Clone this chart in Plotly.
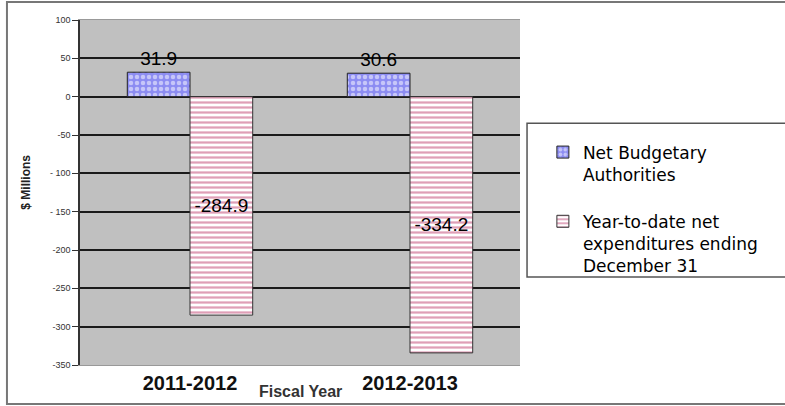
import plotly.graph_objects as go

# data
years = ['2011-2012', '2012-2013']
year_labels = ['<b>2011-2012</b>', '<b>2012-2013</b>']
authorities = [31.9, 30.6]
expenditures = [-284.9, -334.2]
y_ticks = [100, 50, 0, -50, -100, -150, -200, -250, -300, -350]
y_tick_text = ['100', '50', '0', '-50', '- 100', '- 150', '-200', '-250', '-300', '-350']

fig = go.Figure()

fig.add_trace(go.Bar(
    x=years, y=authorities, name='Net Budgetary<br>Authorities',
    legendgroup='a',
    text=[str(v) for v in authorities], textposition='outside',
    textfont=dict(family='Arial', size=19, color='black'),
    cliponaxis=False,
    marker=dict(color='#8C8CF2', line=dict(color='#222222', width=1),
                pattern=dict(shape='.', fgcolor='white', bgcolor='#8C8CF2',
                             size=6, solidity=0.45, fillmode='overlay')),
))
fig.add_trace(go.Bar(
    x=years, y=expenditures, name='Year-to-date net<br>expenditures ending<br>December 31',
    legendgroup='b',
    text=[str(v) for v in expenditures], textposition='inside',
    insidetextanchor='middle',
    textfont=dict(family='Arial', size=19, color='black'),
    marker=dict(color='white', line=dict(color='#333333', width=1),
                pattern=dict(shape='-', fgcolor='#C04070', bgcolor='white',
                             size=5, solidity=0.45, fillmode='overlay')),
))

fig.update_layout(
    width=785, height=406,
    margin=dict(l=80, r=265, t=20, b=41),
    paper_bgcolor='white', plot_bgcolor='#C0C0C0',
    barmode='group', bargap=0.43, bargroupgap=0,
    showlegend=True,
    legend=dict(x=1.052, y=0.668, xanchor='left', yanchor='top',
                font=dict(family='DejaVu Sans', size=17, color='black'),
                bgcolor='rgba(0,0,0,0)', borderwidth=0,
                valign='top', tracegroupgap=22, traceorder='grouped'),
    font=dict(family='Arial'),
)

fig.update_yaxes(
    range=[-350, 100], tickvals=y_ticks, ticktext=y_tick_text,
    tickfont=dict(family='Arial', size=9, color='#333333'),
    showgrid=True, gridcolor='#1a1a1a', gridwidth=1.5,
    zeroline=True, zerolinecolor='#1a1a1a', zerolinewidth=1.5,
    showline=True, linecolor='#333333', linewidth=1.5,
    ticks='outside', ticklen=6, tickcolor='#333333',
    automargin=False,
)
fig.update_xaxes(
    tickvals=years, ticktext=year_labels,
    tickfont=dict(family='Arial', size=20, color='#111111'),
    showline=True, linecolor='#999999', linewidth=1, mirror=True,
    automargin=False,
)

# axis titles
fig.add_annotation(text='<b>Fiscal Year</b>', x=0.5, y=-0.045, xref='paper', yref='paper',
                   yanchor='top', showarrow=False,
                   font=dict(family='Arial', size=16, color='#333333'))
fig.add_annotation(text='<b>$ Millions</b>', x=-0.142, y=0.53, xref='paper', yref='paper',
                   textangle=-90, showarrow=False,
                   font=dict(family='Arial', size=12, color='#222222'))

# legend box and outer frame
fig.add_shape(type='rect', xref='paper', yref='paper', x0=1.016, x1=1.7, y0=0.255, y1=0.701,
              line=dict(color='#555555', width=1.5), fillcolor='white', layer='below')
fig.add_shape(type='rect', xref='paper', yref='paper', x0=-0.166, x1=1.75, y0=-0.113, y1=1.052,
              line=dict(color='#777777', width=2), fillcolor='rgba(0,0,0,0)')

fig.write_html('out.html', config={'displayModeBar': False},
               post_script="document.body.style.margin='0';")
